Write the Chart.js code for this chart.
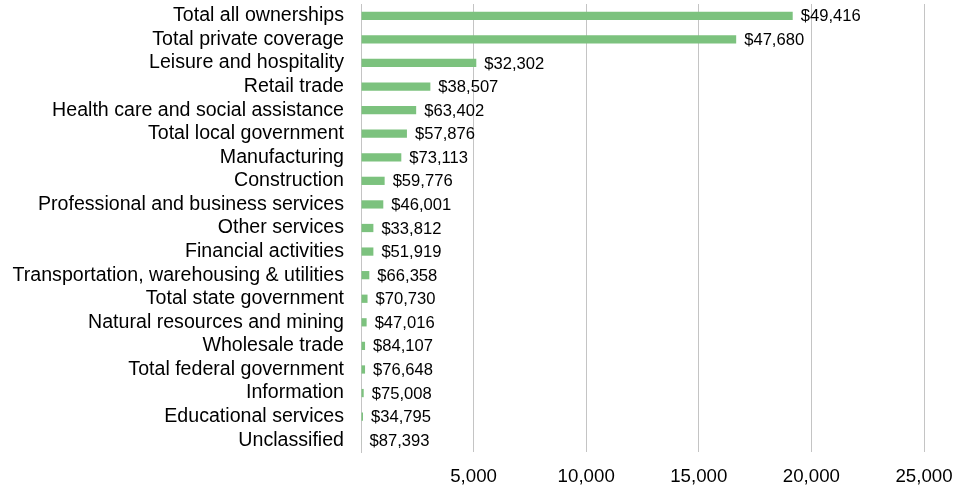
<!DOCTYPE html>
<html>
<head>
<meta charset="utf-8">
<script src="https://cdn.jsdelivr.net/npm/chart.js@4/dist/chart.umd.min.js"></script>
<style>
html,body{margin:0;padding:0;background:#fff;}
#wrap{width:953px;height:487px;position:relative;}
</style>
</head>
<body>
<div id="wrap"><canvas id="c" width="953" height="487"></canvas></div>
<script>
const categories = [
  "Total all ownerships",
  "Total private coverage",
  "Leisure and hospitality",
  "Retail trade",
  "Health care and social assistance",
  "Total local government",
  "Manufacturing",
  "Construction",
  "Professional and business services",
  "Other services",
  "Financial activities",
  "Transportation, warehousing & utilities",
  "Total state government",
  "Natural resources and mining",
  "Wholesale trade",
  "Total federal government",
  "Information",
  "Educational services",
  "Unclassified"
];
const employment = [19170, 16660, 5120, 3080, 2450, 2040, 1790, 1050, 990, 550, 550, 370, 290, 250, 180, 180, 120, 90, 20];
const wageLabels = ["$49,416","$47,680","$32,302","$38,507","$63,402","$57,876","$73,113","$59,776","$46,001","$33,812","$51,919","$66,358","$70,730","$47,016","$84,107","$76,648","$75,008","$34,795","$87,393"];
const xTicks = [0, 5000, 10000, 15000, 20000, 25000];

const FONT = "'Liberation Sans', Arial, sans-serif";

const labelPlugin = {
  id: 'barLabels',
  afterDatasetsDraw(chart) {
    const ctx = chart.ctx;
    const meta = chart.getDatasetMeta(0);
    ctx.save();
    ctx.font = "16.6px " + FONT;
    ctx.fillStyle = "#000";
    ctx.textAlign = "left";
    ctx.textBaseline = "middle";
    meta.data.forEach((bar, i) => {
      ctx.fillText(wageLabels[i], bar.x + 8, bar.y + 1);
    });
    ctx.restore();
  }
};

new Chart(document.getElementById('c'), {
  type: 'bar',
  data: {
    labels: categories,
    datasets: [{
      data: employment,
      backgroundColor: '#7CC27E',
      borderWidth: 0,
      barPercentage: 0.35,
      categoryPercentage: 1
    }]
  },
  options: {
    indexAxis: 'y',
    responsive: false,
    animation: false,
    layout: { padding: { top: 4, right: 29, bottom: 0, left: 0 } },
    plugins: { legend: { display: false }, tooltip: { enabled: false } },
    scales: {
      x: {
        min: 0, max: 25000,
        afterBuildTicks(scale) { scale.ticks = xTicks.map(v => ({ value: v })); },
        afterFit(scale) { scale.height = 35; scale.paddingLeft = 0; scale.paddingRight = 0; },
        ticks: {
          color: '#000',
          font: { family: FONT, size: 18.7 },
          padding: 14,
          maxRotation: 0,
          autoSkip: false,
          callback: (v) => v === 0 ? '' : v.toLocaleString('en-US')
        },
        grid: { color: '#c4c4c4', lineWidth: 1, drawTicks: false },
        border: { display: false }
      },
      y: {
        afterFit(scale) { scale.width = 361; scale.paddingTop = 0; scale.paddingBottom = 0; },
        ticks: {
          color: '#000',
          font: { family: FONT, size: 19.6 },
          padding: 17,
          autoSkip: false
        },
        grid: { display: false, drawTicks: false },
        border: { display: true, color: '#c4c4c4', width: 1 }
      }
    }
  },
  plugins: [labelPlugin]
});
</script>
</body>
</html>
